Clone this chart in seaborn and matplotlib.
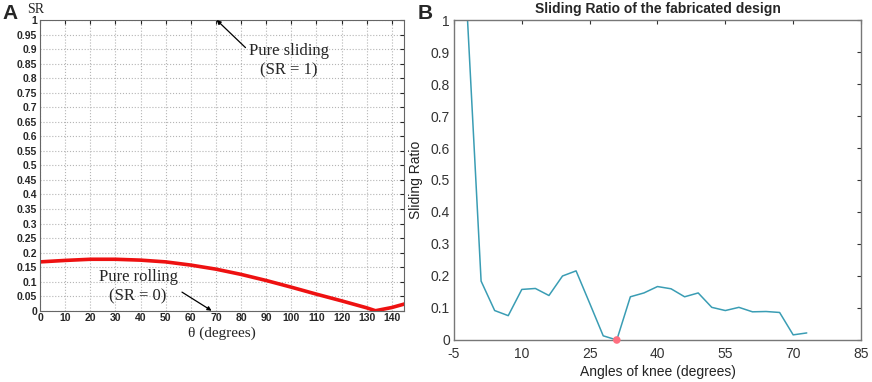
import numpy as np
import pandas as pd
import matplotlib
matplotlib.use("Agg")
import matplotlib.pyplot as plt
import seaborn as sns

# Panel A: theoretical sliding ratio
theta_deg = [0, 10, 20, 30, 40, 50, 60, 70, 80, 90, 100, 110, 120, 130, 133.5, 140, 145]
sr_theory = [0.168, 0.173, 0.177, 0.177, 0.174, 0.168, 0.157, 0.143, 0.125, 0.104,
             0.081, 0.057, 0.034, 0.010, 0.0, 0.011, 0.023]

# Panel B: measured sliding ratio of the fabricated design
knee_deg = [-2, 1, 4, 7, 10, 13, 16, 19, 22, 25, 28, 31, 34, 37, 40, 43, 46, 49,
            52, 55, 58, 61, 64, 67, 70, 73]
sr_fab = [1.0, 0.184, 0.092, 0.076, 0.158, 0.161, 0.139, 0.200, 0.216, 0.115, 0.013,
          0.0, 0.135, 0.147, 0.167, 0.160, 0.135, 0.147, 0.102, 0.092, 0.102, 0.088,
          0.089, 0.086, 0.016, 0.022]
min_knee = [31]
min_sr = [0.0]

df_a = pd.DataFrame({'theta': theta_deg, 'SR': sr_theory})
df_b = pd.DataFrame({'knee': knee_deg, 'SR': sr_fab})

sns.set_style("white")
plt.rcParams['font.family'] = ['Liberation Sans', 'DejaVu Sans']
plt.rcParams['axes.unicode_minus'] = False

fig = plt.figure(figsize=(8.72, 3.82), dpi=100)
ax1 = fig.add_axes([0.0459, 0.1866, 0.4178, 0.761])
ax2 = fig.add_axes([0.5206, 0.11, 0.4668, 0.8376])

# ---- panel A
sns.lineplot(data=df_a, x='theta', y='SR', ax=ax1, color='#ee1111', linewidth=2.6)
ax1.set_xlim(0, 145)
ax1.set_ylim(0, 1)
ax1.set_xticks(np.arange(0, 141, 10))
ax1.set_yticks(np.arange(0, 1.001, 0.05))
ax1.set_yticklabels(['0'] + ['%g' % round(v, 2) for v in np.arange(0.05, 1.001, 0.05)])
ax1.grid(True, linestyle=':', color='#b5b5b5', linewidth=0.8)
ax1.tick_params(direction='in', length=3, labelsize=7.5, top=True, right=True, pad=2)
for lab in ax1.get_xticklabels() + ax1.get_yticklabels():
    lab.set_fontweight('bold')
for s in ax1.spines.values():
    s.set_color('#666666')
    s.set_linewidth(0.8)
ax1.set_xlabel('θ (degrees)', family='Liberation Serif', fontsize=11, labelpad=2)
ax1.set_ylabel('')
ax1.text(-0.035, 1.015, 'SR', transform=ax1.transAxes, family='Liberation Serif',
         fontsize=10, ha='left', va='bottom')
ax1.annotate('Pure sliding\n(SR = 1)', xy=(70.3, 1.0), xytext=(99, 0.86),
             ha='center', va='center', family='Liberation Serif', fontsize=12,
             linespacing=1.3,
             arrowprops=dict(arrowstyle='-|>', color='black', lw=0.9,
                             mutation_scale=6, shrinkA=0, shrinkB=0,
                             relpos=(0.0, 0.78)))
ax1.annotate('', xy=(68.3, 0.0), xytext=(56.5, 0.064),
             arrowprops=dict(arrowstyle='-|>', color='black', lw=0.9,
                             mutation_scale=6, shrinkA=0, shrinkB=0))
ax1.text(39, 0.083, 'Pure rolling\n(SR = 0)', ha='center', va='center',
         family='Liberation Serif', fontsize=12, linespacing=1.3)

# ---- panel B
sns.lineplot(data=df_b, x='knee', y='SR', ax=ax2, color='#3a9db4', linewidth=1.1)
sns.scatterplot(x=min_knee, y=min_sr, ax=ax2, color='#ff6f80', s=30,
                edgecolor='none', zorder=5, clip_on=False)
ax2.set_xlim(-5, 85)
ax2.set_ylim(0, 1)
ax2.set_xticks(np.arange(-5, 86, 15))
ax2.set_yticks(np.arange(0, 1.001, 0.1))
ax2.set_yticklabels(['0'] + ['%g' % round(v, 1) for v in np.arange(0.1, 1.001, 0.1)])
ax2.tick_params(direction='in', length=3, labelsize=10, top=True, right=True,
                colors='#333333')
ax2.tick_params(axis='x', pad=5)
ax2.tick_params(axis='y', pad=3)
for s in ax2.spines.values():
    s.set_color('#777777')
    s.set_linewidth(1.0)
ax2.set_xlabel('Angles of knee (degrees)', fontsize=10, color='#222222', labelpad=3)
ax2.set_ylabel('Sliding Ratio', fontsize=10, color='#222222')
ax2.yaxis.set_label_coords(-0.076, 0.5)
ax2.set_title('Sliding Ratio of the fabricated design', fontsize=10,
              fontweight='bold', pad=5)

# panel letters
fig.text(0.003, 0.965, 'A', fontsize=15, fontweight='bold', va='center', ha='left')
fig.text(0.479, 0.965, 'B', fontsize=15, fontweight='bold', va='center', ha='left')

fig.savefig('out.png', dpi=100)
